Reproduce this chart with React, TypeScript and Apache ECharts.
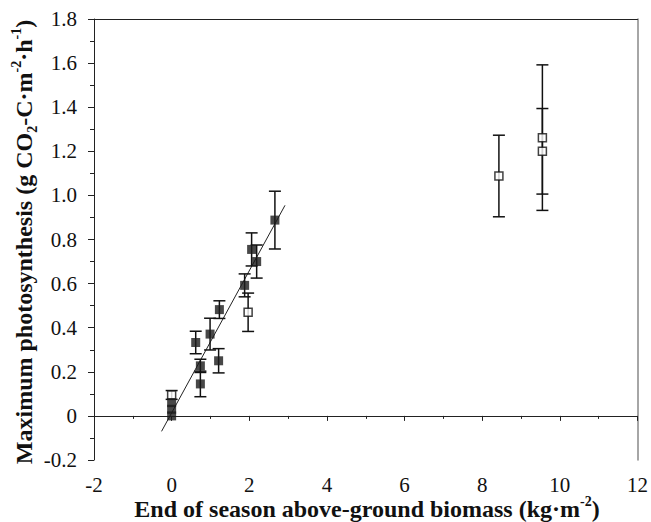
import React, { useEffect, useRef } from "react";
import * as echarts from "echarts";

// Filled squares: [x, y, error]
const filledX = [2.66, 2.06, 2.19, 1.88, 1.23, 0.99, 0.62, 1.21, 0.74, 0.74, 0.0, 0.0, 0.0];
const filledY = [0.888, 0.755, 0.70, 0.592, 0.482, 0.371, 0.333, 0.25, 0.227, 0.145, 0.06, 0.03, 0.0];
const filledErr = [0.131, 0.075, 0.075, 0.052, 0.04, 0.072, 0.051, 0.055, 0.03, 0.058, 0.0, 0.0, 0.0];

// Open squares
const openX = [8.43, 9.55, 9.55, 1.97, 0.0];
const openY = [1.088, 1.262, 1.20, 0.47, 0.095];
const openErr = [0.185, 0.33, 0.194, 0.087, 0.02];

// Regression line end points
const fitX = [-0.26, 2.92];
const fitY = [-0.07, 0.955];

const xTicks = [-2, 0, 2, 4, 6, 8, 10, 12];
const yTicks = [-0.2, 0, 0.2, 0.4, 0.6, 0.8, 1.0, 1.2, 1.4, 1.6, 1.8];

const FONT = "'Liberation Serif', 'Times New Roman', serif";

export default function App() {
  const ref = useRef<HTMLDivElement>(null);
  useEffect(() => {
    document.body.style.margin = "0";
    const chart = echarts.init(ref.current!, null, { renderer: "svg" });
    const errData: number[][] = [];
    filledX.forEach((x, i) => {
      if (filledErr[i] > 0) errData.push([x, filledY[i], filledErr[i]]);
    });
    openX.forEach((x, i) => errData.push([x, openY[i], openErr[i]]));

    const axisLabel = { color: "#111", fontFamily: FONT, fontSize: 21 };
    const TF = 24;
    const SF = 14;
    chart.setOption({
      animation: false,
      backgroundColor: "#fff",
      grid: { left: 94, top: 19, width: 545, height: 441 },
      xAxis: [
        {
          type: "value",
          min: xTicks[0],
          max: xTicks[xTicks.length - 1],
          interval: 2,
          splitLine: { show: false },
          axisLine: { lineStyle: { color: "#222", width: 1 } },
          axisTick: { inside: false, length: 5, lineStyle: { color: "#222" } },
          minorTick: { show: true, splitNumber: 2, length: 3, lineStyle: { color: "#222" } },
          axisLabel: { ...axisLabel, margin: 14 },
        },
        {
          type: "value",
          position: "top",
          min: xTicks[0],
          max: xTicks[xTicks.length - 1],
          axisLine: { show: true, onZero: false, lineStyle: { color: "#222", width: 1 } },
          axisTick: { show: false },
          axisLabel: { show: false },
          splitLine: { show: false },
        },
      ],
      yAxis: [
        {
          type: "value",
          min: yTicks[0],
          max: yTicks[yTicks.length - 1],
          interval: 0.2,
          splitLine: { show: false },
          axisLine: { show: true, onZero: false, lineStyle: { color: "#222", width: 1 } },
          axisTick: { show: true, inside: false, length: 6, lineStyle: { color: "#222" } },
          minorTick: { show: true, splitNumber: 2, length: 4, lineStyle: { color: "#222" } },
          axisLabel: {
            ...axisLabel,
            margin: 17,
            formatter: (v: number) => (Math.abs(v) < 1e-9 ? "0" : v.toFixed(1)),
          },
        },
        {
          type: "value",
          position: "right",
          min: yTicks[0],
          max: yTicks[yTicks.length - 1],
          axisLine: { show: true, onZero: false, lineStyle: { color: "#888", width: 1.5 } },
          axisTick: { show: false },
          axisLabel: { show: false },
          splitLine: { show: false },
        },
      ],
      graphic: [
        {
          type: "text",
          x: 24,
          y: 242,
          rotation: Math.PI / 2,
          style: {
            text: "{b|Maximum photosynthesis (g CO}{sub|2}{b|-C·m}{sup|-2}{b|·h}{sup|-1}{b|)}",
            align: "center",
            verticalAlign: "middle",
            rich: {
              b: { fontFamily: FONT, fontWeight: "bold", fontSize: TF, fill: "#111", lineHeight: 30, verticalAlign: "middle" },
              sub: { fontFamily: FONT, fontWeight: "bold", fontSize: SF, fill: "#111", lineHeight: 30, verticalAlign: "bottom" },
              sup: { fontFamily: FONT, fontWeight: "bold", fontSize: SF, fill: "#111", lineHeight: 30, verticalAlign: "top" },
            },
          },
        },
        {
          type: "text",
          x: 367,
          y: 509,
          style: {
            text: "{b|End of season above-ground biomass (kg·m}{sup|-2}{b|)}",
            align: "center",
            verticalAlign: "middle",
            rich: {
              b: { fontFamily: FONT, fontWeight: "bold", fontSize: TF, fill: "#111", lineHeight: 30, verticalAlign: "middle" },
              sup: { fontFamily: FONT, fontWeight: "bold", fontSize: SF, fill: "#111", lineHeight: 30, verticalAlign: "top" },
            },
          },
        },
      ],
      series: [
        {
          type: "line",
          data: fitX.map((x, i) => [x, fitY[i]]),
          showSymbol: false,
          symbol: "none",
          lineStyle: { color: "#222", width: 1 },
          z: 1,
        },
        {
          type: "custom",
          data: errData,
          z: 2,
          renderItem: (params: any, api: any) => {
            const x = api.value(0);
            const y = api.value(1);
            const e = api.value(2);
            const top = api.coord([x, y + e]);
            const bot = api.coord([x, y - e]);
            const hw = 6;
            const style = { stroke: "#111", lineWidth: 1.5 };
            return {
              type: "group",
              children: [
                { type: "line", shape: { x1: top[0], y1: top[1], x2: bot[0], y2: bot[1] }, style },
                { type: "line", shape: { x1: top[0] - hw, y1: top[1], x2: top[0] + hw, y2: top[1] }, style },
                { type: "line", shape: { x1: bot[0] - hw, y1: bot[1], x2: bot[0] + hw, y2: bot[1] }, style },
              ],
            };
          },
        },
        {
          type: "scatter",
          data: openX.map((x, i) => [x, openY[i]]),
          symbol: "rect",
          symbolSize: 8,
          itemStyle: { color: "#fff", borderColor: "#111", borderWidth: 1.5 },
          z: 3,
        },
        {
          type: "scatter",
          data: filledX.map((x, i) => [x, filledY[i]]),
          symbol: "rect",
          symbolSize: 9,
          itemStyle: { color: "#1a1a1a" },
          z: 4,
        },
      ],
    });
    return () => chart.dispose();
  }, []);
  return <div ref={ref} style={{ width: 651, height: 522 }} />;
}
